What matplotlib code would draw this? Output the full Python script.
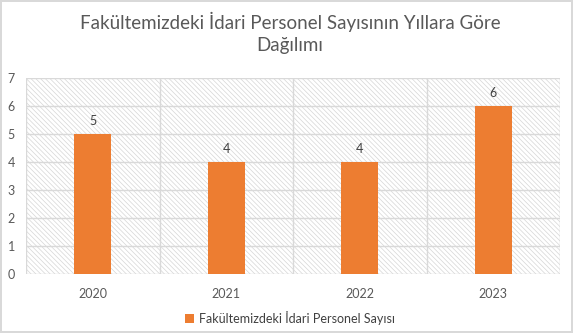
import matplotlib
matplotlib.use('Agg')
import matplotlib.pyplot as plt
from matplotlib.patches import Rectangle
import numpy as np

plt.rcParams['font.family'] = ['Lato', 'DejaVu Sans']
plt.rcParams['hatch.linewidth'] = 0.5

years = ['2020', '2021', '2022', '2023']
values = [5, 4, 4, 6]
series_name = 'Fakültemizdeki İdari Personel Sayısı'
title = 'Fakültemizdeki İdari Personel Sayısının Yıllara Göre\nDağılımı'

bar_color = '#ED7D31'
grid_color = '#D9D9D9'
text_color = '#595959'

fig = plt.figure(figsize=(5.73, 3.33), dpi=100)
fig.patch.set_edgecolor(grid_color)
fig.patch.set_linewidth(1.5)
ax = fig.add_axes([0.0454, 0.177, 0.932, 0.589])

# hatched plot area
ax.add_patch(Rectangle((0, 0), 1, 1, transform=ax.transAxes, facecolor='white',
                       edgecolor='#D6D6D6', hatch='\\' * 7, linewidth=0, zorder=0))

x = np.arange(len(years))
bars = ax.bar(x, values, width=0.28, color=bar_color, zorder=3, label=series_name)
for xi, v in zip(x, values):
    ax.text(xi, v + 0.25, str(v), ha='center', va='bottom', fontsize=9, color='#404040', zorder=4)

ax.set_xlim(-0.5, len(years) - 0.5)
ax.set_ylim(0, 7)
ax.set_yticks(range(0, 8))
ax.set_xticks(x)
ax.set_xticklabels(years)
ax.tick_params(axis='both', length=0, labelsize=9, colors=text_color)
ax.tick_params(axis='x', pad=10)
ax.tick_params(axis='y', pad=8)

for yv in range(1, 8):
    ax.axhline(yv, color=grid_color, lw=1, zorder=2)
for xv in np.arange(-0.5, len(years), 1.0):
    ax.axvline(xv, color=grid_color, lw=1, zorder=2)
for s in ax.spines.values():
    s.set_visible(False)
ax.axhline(0, color=grid_color, lw=1, zorder=2)

fig.text(0.506, 0.965, title, ha='center', va='top', fontsize=13.5, color=text_color, linespacing=1.35)

fig.legend(handles=[bars], labels=[series_name], loc='center', bbox_to_anchor=(0.506, 0.045),
           frameon=False, fontsize=9, handlelength=0.7, handleheight=0.7, handletextpad=0.4,
           labelcolor='#404040')

fig.savefig('out.png', dpi=100)
